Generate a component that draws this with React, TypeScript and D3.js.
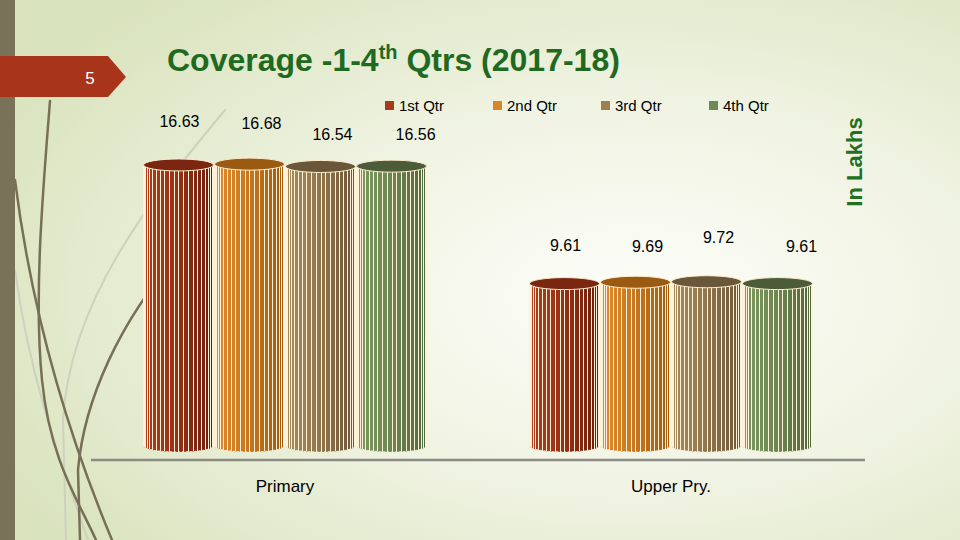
import React from 'react';
import * as d3 from 'd3';

// chart values
const categories = ['Primary', 'Upper Pry.'];
const quarters = ['1st Qtr', '2nd Qtr', '3rd Qtr', '4th Qtr'];
const qtr1 = [16.63, 9.61];
const qtr2 = [16.68, 9.69];
const qtr3 = [16.54, 9.72];
const qtr4 = [16.56, 9.61];
const series = [qtr1, qtr2, qtr3, qtr4];

const title = 'Coverage -1-4';
const titleSup = 'th';
const titleRest = ' Qtrs (2017-18)';
const unitLabel = 'In Lakhs';
const slideNo = '5';

// look
const W = 960;
const H = 540;
const palette = [
  { light: '#b03e1c', dark: '#6a1d0b', top: '#7b2611', key: '#a83a1c' },
  { light: '#e08a2c', dark: '#9f5a0d', top: '#9b5a12', key: '#d9862a' },
  { light: '#a98b5a', dark: '#6c5436', top: '#6a5638', key: '#9c8052' },
  { light: '#7e9a5f', dark: '#50663c', top: '#4c5c38', key: '#6e8858' },
];
// hand nudges of the value labels, as in the original slide
const labelDx = [1, 12, 12, 24];
const labelDy = [
  [-44, -41, -32, -32],
  [-39, -36, -45, -38],
];

const font = 'Arial, "Liberation Sans", sans-serif';

function Cylinder({ cx, w, yTop, y0, q, id }: any) {
  const r = w / 2;
  const ry = 6;
  const n = 22;
  const c = palette[q];
  const stripes = d3.range(1, n).map((i) => {
    const t = (Math.PI * i) / n;
    return { x: Math.round(cx - r * Math.cos(t)) + 0.5, s: Math.sin(t) };
  });
  const body = `M${cx - r},${yTop} L${cx - r},${y0} A${r},${ry} 0 0 0 ${cx + r},${y0} L${cx + r},${yTop} Z`;
  return (
    <g>
      <path d={body} fill={`url(#${id})`} />
      {stripes.map((s, i) => (
        <line
          key={i}
          x1={s.x}
          x2={s.x}
          y1={yTop + ry * s.s}
          y2={y0 + ry * s.s}
          stroke="#fdf1da"
          strokeWidth={1}
          shapeRendering="crispEdges"
        />
      ))}
      <path
        d={`M${cx - r},${y0} A${r},${ry} 0 0 0 ${cx + r},${y0}`}
        fill="none"
        stroke="#f4ead2"
        strokeWidth={1}
        strokeDasharray="2 2"
      />
      <line x1={cx - r} x2={cx - r} y1={yTop} y2={y0} stroke="#fdf1da" strokeWidth={1} />
      <line x1={cx + r} x2={cx + r} y1={yTop} y2={y0} stroke="#fdf1da" strokeWidth={1} />
      <ellipse cx={cx} cy={yTop} rx={r} ry={ry} fill={c.top} stroke="#fbeccc" strokeWidth={1} />
    </g>
  );
}

export default function App() {
  const x0 = d3.scaleBand().domain(categories).range([92, 864]).padding(0);
  const x1 = d3
    .scaleBand()
    .domain(quarters)
    .range([0, x0.bandwidth()])
    .paddingInner(0)
    .paddingOuter(0.718);
  const y = d3.scaleLinear().domain([0, 20]).range([446, 108]);
  const legendX = d3.scaleBand().domain(quarters).range([385, 817]);

  const bars = categories.flatMap((cat, ci) =>
    quarters.map((q, qi) => {
      const v = series[qi][ci];
      const cx = (x0(cat) as number) + (x1(q) as number) + x1.bandwidth() / 2;
      return { cat, ci, q, qi, v, cx };
    })
  );

  return (
    <svg
      width={W}
      height={H}
      style={{ position: 'absolute', left: 0, top: 0 }}
      fontFamily={font}
    >
      <defs>
        <radialGradient id="bg" cx="0.66" cy="0.55" r="0.75">
          <stop offset="0" stopColor="#fdfdf9" />
          <stop offset="0.45" stopColor="#f1f4e4" />
          <stop offset="1" stopColor="#d9e3bd" />
        </radialGradient>
        {palette.map((c, i) => (
          <linearGradient key={i} id={`cyl${i}`} x1="0" x2="1" y1="0" y2="0">
            <stop offset="0" stopColor={c.light} />
            <stop offset="0.45" stopColor={d3.interpolateRgb(c.light, c.dark)(0.35)} />
            <stop offset="1" stopColor={c.dark} />
          </linearGradient>
        ))}
      </defs>
      <rect width={W} height={H} fill="url(#bg)" />

      {/* left decoration */}
      <g fill="none" strokeLinecap="round">
        <path d="M225,110 C150,200 70,300 63,420 L66,540" stroke="#cdd2bd" strokeWidth={2} />
        <path d="M15,270 C30,380 60,460 88,540" stroke="#cdd2bd" strokeWidth={2} />
        <path d="M50,101 C42,200 34,300 42,380 S78,500 96,540" stroke="#777056" strokeWidth={2.5} />
        <path d="M15,180 C30,300 62,420 112,540" stroke="#777056" strokeWidth={2.5} />
        <path d="M180,253 C120,320 84,400 78,470 L80,540" stroke="#777056" strokeWidth={2.5} />
      </g>
      <rect x={0} y={0} width={15} height={H} fill="#7a7258" />
      <path d="M0,56 L108,56 L126,77 L108,97 L0,97 Z" fill="#a8341a" />
      <text x={90} y={84} fill="#fff" fontSize={17} textAnchor="middle">
        {slideNo}
      </text>

      <text x={167} y={71} fill="#1f6a20" fontSize={32} fontWeight="bold">
        {title}
        <tspan fontSize={20} dy={-12}>
          {titleSup}
        </tspan>
        <tspan dy={12}>{titleRest}</tspan>
      </text>

      {/* legend */}
      {quarters.map((q, i) => (
        <g key={q} transform={`translate(${legendX(q)},101)`}>
          <rect width={9} height={9} fill={palette[i].key} />
          <text x={14} y={10} fontSize={15} fill="#000">
            {q}
          </text>
        </g>
      ))}

      <text
        transform="translate(862,162) rotate(-90)"
        textAnchor="middle"
        fontSize={22}
        fontWeight="bold"
        fill="#217021"
      >
        {unitLabel}
      </text>

      {/* bars */}
      {bars.map((b) => (
        <Cylinder
          key={b.cat + b.q}
          cx={b.cx}
          w={x1.bandwidth() - 1}
          yTop={y(b.v)}
          y0={y(0)}
          q={b.qi}
          id={`cyl${b.qi}`}
        />
      ))}

      {bars.map((b) => (
        <text
          key={'l' + b.cat + b.q}
          x={b.cx + labelDx[b.qi]}
          y={y(b.v) + labelDy[b.ci][b.qi] + 6}
          textAnchor="middle"
          fontSize={16}
          fill="#000"
        >
          {b.v.toFixed(2)}
        </text>
      ))}

      <line x1={91} x2={865} y1={460} y2={460} stroke="#8a8c84" strokeWidth={2.5} />

      {categories.map((c) => (
        <text
          key={c}
          x={(x0(c) as number) + x0.bandwidth() / 2}
          y={492}
          textAnchor="middle"
          fontSize={17}
          fill="#000"
        >
          {c}
        </text>
      ))}
    </svg>
  );
}
